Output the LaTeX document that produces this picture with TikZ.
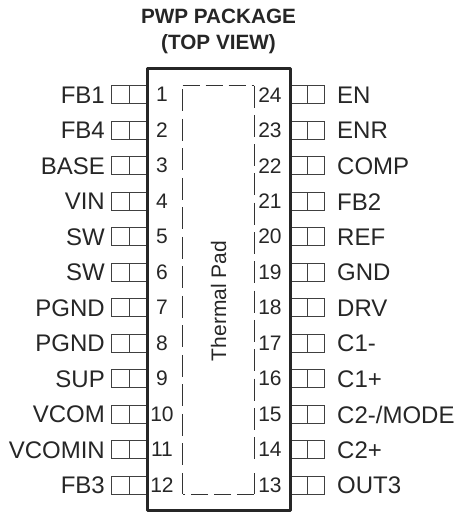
\documentclass[tikz,border=0pt]{standalone}
\usepackage{fontspec}
\setmainfont{Liberation Sans}
\tikzset{
 x=1pt,y=-1pt,
 pinbox/.style={draw=black!75,line width=0.8pt},
 lab/.style={inner sep=0pt,font=\fontsize{24}{24}\selectfont,text=black!85},
 num/.style={inner sep=0pt,font=\fontsize{21}{21}\selectfont,text=black!85},
 pack/.style={draw=black!85,line width=3pt,line join=round},
 padline/.style={draw=black!80,line width=0.8pt},
 padh/.style={padline,dash pattern=on 17.5pt off 5.5pt},
 padl/.style={padline,dash pattern=on 22pt off 7.5pt},
 padr/.style={padline,dash pattern=on 22pt off 7.3pt},
 ttl/.style={inner sep=0pt,font=\bfseries\fontsize{20.7}{26}\selectfont,align=center,text=black!85}
}
\begin{document}
\begin{tikzpicture}
\useasboundingbox (0,0) rectangle (454,512);
\node[ttl] (title) at (218.5,31) {PWP PACKAGE\\(TOP VIEW)};
\foreach \i/\t in {1/FB1,2/FB4,3/BASE,4/VIN,5/SW,6/SW,7/PGND,8/PGND,9/SUP,10/VCOM,11/VCOMIN,12/FB3}{
  \pgfmathsetmacro\yy{94.7+(\i-1)*35.5}
  \draw[pinbox] (147,\yy-9) -- (111.5,\yy-9) -- (111.5,\yy+9) -- (147,\yy+9) (129.5,\yy-9) -- (129.5,\yy+9);
  \node[lab,anchor=east] (L\i) at (105,\yy+0.5) {\t};
  \node[num] (N\i) at (162,\yy) {\i};
}
\foreach \i/\t in {24/EN,23/ENR,22/COMP,21/FB2,20/REF,19/GND,18/DRV,17/C1-,16/C1+,15/{C2-/MODE},14/C2+,13/OUT3}{
  \pgfmathsetmacro\yy{94.7+(24-\i)*35.5}
  \draw[pinbox] (290,\yy-9) -- (324.5,\yy-9) -- (324.5,\yy+9) -- (290,\yy+9) (307,\yy-9) -- (307,\yy+9);
  \node[lab,anchor=west] (L\i) at (337,\yy+0.5) {\t};
  \node[num] (N\i) at (270,\yy) {\i};
}
\draw[pack] (147,68) rectangle (290,510);
\draw[padh] (182.5,85.5) -- (254,85.5);
\draw[padh] (254,494) -- (182.5,494);
\draw[padl] (182.5,89.3) -- (182.5,494);
\draw[padr] (254,85.5) -- (254,460);
\draw[padline] (254,473) -- (254,494);
\node[rotate=90,inner sep=0pt,font=\fontsize{21}{21}\selectfont,text=black!85] (tp) at (218.5,301) {Thermal Pad};
\end{tikzpicture}
\end{document}
